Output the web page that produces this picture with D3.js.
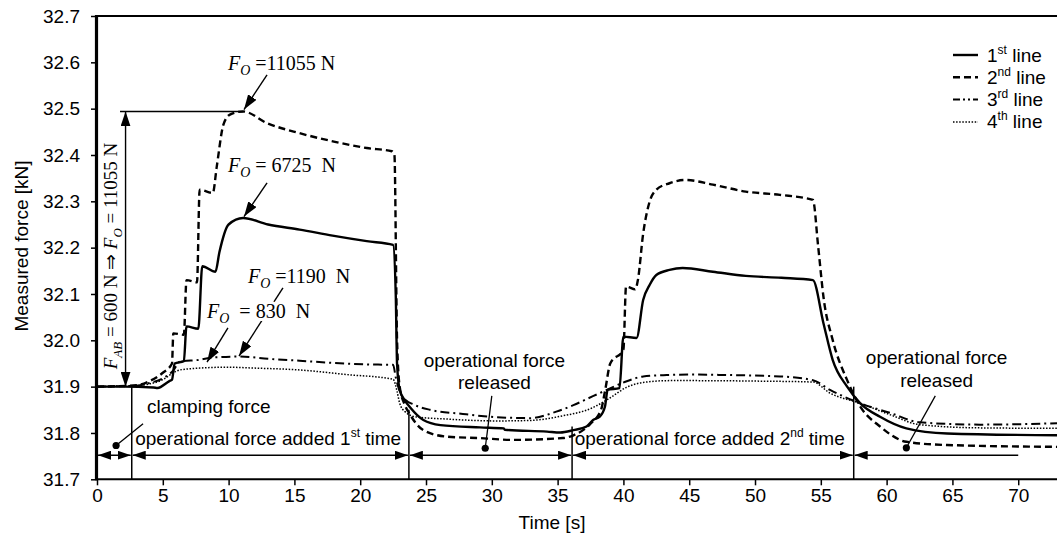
<!DOCTYPE html>
<html>
<head>
<meta charset="utf-8">
<script src="https://cdn.jsdelivr.net/npm/d3@7"></script>
<style>
body { margin: 0; background: #fff; }
svg { display: block; }
text { font-family: "Liberation Sans", Arial, sans-serif; fill: #000; }
.serif { font-family: "Liberation Serif", "Times New Roman", serif; }
</style>
</head>
<body>
<svg id="chart" width="1057" height="536"></svg>
<script>
// measured force per line (time in s, force in kN)
var time1 = [0, 2, 4.3, 4.6, 5.5, 5.7, 5.9, 6.6, 6.8, 7.7, 8.0, 9.0, 9.3, 10.0, 11.1, 13.0, 15.4, 17.9, 20.5, 22.5, 22.7, 22.8, 23.0, 23.4, 23.8, 24.8, 26.1, 29.1, 30.9, 31.0, 34.2, 35.2, 36.2, 37.2, 37.7, 38.2, 38.6, 38.8, 39.7, 40.0, 41.0, 41.5, 42.0, 42.5, 43.5, 44.5, 46.8, 49.3, 52.0, 54.4, 55.2, 55.9, 57.0, 58.0, 59.5, 61.5, 64.6, 73];
var force1 = [31.900, 31.900, 31.898, 31.897, 31.912, 31.915, 31.950, 31.955, 32.030, 32.025, 32.160, 32.148, 32.190, 32.250, 32.264, 32.250, 32.239, 32.226, 32.214, 32.206, 32.100, 31.950, 31.893, 31.870, 31.855, 31.828, 31.817, 31.812, 31.810, 31.807, 31.803, 31.801, 31.806, 31.814, 31.828, 31.835, 31.857, 31.893, 31.897, 32.008, 32.005, 32.087, 32.120, 32.141, 32.152, 32.156, 32.148, 32.139, 32.135, 32.130, 32.037, 31.958, 31.900, 31.864, 31.835, 31.810, 31.799, 31.795];

var time2 = [0, 3.0, 4.0, 5.0, 5.7, 5.8, 6.6, 6.8, 7.6, 7.8, 8.8, 9.1, 9.6, 10.1, 11.1, 12.9, 15.4, 18.0, 20.5, 22.4, 22.6, 22.8, 23.0, 23.4, 23.8, 24.8, 26.6, 29.1, 31.6, 35.4, 36.2, 37.5, 38.3, 38.6, 39.0, 40.0, 40.2, 40.9, 41.1, 41.5, 42.0, 42.5, 43.5, 44.7, 46.8, 49.3, 51.9, 54.4, 54.8, 55.2, 55.9, 57.0, 58.0, 59.5, 61.5, 64.6, 73];
var force2 = [31.900, 31.903, 31.912, 31.930, 31.950, 32.015, 32.012, 32.130, 32.125, 32.325, 32.318, 32.375, 32.465, 32.487, 32.494, 32.469, 32.447, 32.429, 32.415, 32.408, 32.400, 32.000, 31.900, 31.860, 31.839, 31.806, 31.792, 31.789, 31.785, 31.789, 31.795, 31.820, 31.850, 31.890, 31.950, 31.980, 32.116, 32.110, 32.130, 32.230, 32.300, 32.325, 32.339, 32.346, 32.336, 32.321, 32.314, 32.303, 32.202, 32.094, 32.001, 31.914, 31.857, 31.814, 31.781, 31.774, 31.770];

var time3 = [0, 3.0, 4.0, 5.0, 5.8, 6.3, 7.8, 8.8, 10.9, 13.0, 15.4, 18.0, 20.5, 22.5, 22.7, 23.0, 23.5, 24.0, 25.3, 27.8, 30.4, 32.9, 34.9, 36.2, 37.2, 38.5, 40.2, 41.5, 43.3, 45.1, 48.0, 51.9, 54.4, 55.7, 58.0, 60.3, 62.5, 67.1, 73];
var force3 = [31.900, 31.902, 31.908, 31.918, 31.935, 31.954, 31.958, 31.963, 31.965, 31.960, 31.956, 31.951, 31.948, 31.947, 31.920, 31.890, 31.870, 31.862, 31.850, 31.841, 31.834, 31.832, 31.846, 31.860, 31.873, 31.890, 31.911, 31.922, 31.925, 31.926, 31.925, 31.922, 31.914, 31.893, 31.864, 31.843, 31.823, 31.818, 31.821];

var time4 = [0, 3.0, 4.0, 5.0, 5.8, 6.3, 7.8, 9.9, 12.0, 15.4, 19.0, 22.5, 22.8, 23.0, 23.4, 24.2, 26.6, 30.4, 32.9, 35.2, 37.7, 39.0, 40.2, 41.5, 43.5, 45.1, 50.0, 54.4, 55.7, 58.0, 60.3, 62.5, 67.1, 73];
var force4 = [31.900, 31.902, 31.906, 31.915, 31.930, 31.936, 31.940, 31.942, 31.940, 31.936, 31.926, 31.916, 31.890, 31.864, 31.846, 31.835, 31.830, 31.826, 31.827, 31.836, 31.855, 31.876, 31.898, 31.909, 31.913, 31.913, 31.912, 31.910, 31.886, 31.864, 31.839, 31.818, 31.811, 31.810];

var lineNumbers = ["1", "2", "3", "4"];
var lineSuffixes = ["st", "nd", "rd", "th"];
var xTicks = [0, 5, 10, 15, 20, 25, 30, 35, 40, 45, 50, 55, 60, 65, 70];
var yTicks = [31.7, 31.8, 31.9, 32.0, 32.1, 32.2, 32.3, 32.4, 32.5, 32.6, 32.7];

// phases of the test: boundary times and force where each boundary line starts
var phaseTimes = [0, 2.64, 23.7, 36.1, 57.5, 70];
var phaseTops = [null, 31.9, 31.85, 31.814, 31.9, null];

var svg = d3.select("#chart");
var x = d3.scaleLinear().domain([0, 73]).range([97, 1057.7]);
var y = d3.scaleLinear().domain([31.7, 32.7]).range([479.3, 16]);

var defs = svg.append("defs");
defs.append("clipPath").attr("id", "plot").append("rect")
	.attr("x", 97).attr("y", 10).attr("width", 962).attr("height", 470);
function addHead(id, len, half) {
	defs.append("marker").attr("id", id)
		.attr("markerUnits", "userSpaceOnUse")
		.attr("viewBox", "0 0 " + len + " " + (half * 2))
		.attr("markerWidth", len).attr("markerHeight", half * 2)
		.attr("refX", len).attr("refY", half)
		.attr("orient", "auto-start-reverse")
		.append("path").attr("d", "M0,0L" + len + "," + half + "L0," + (half * 2) + "Z").attr("fill", "#000");
}
addHead("headS", 13, 4.5);
addHead("headL", 15, 5);

var FS = 19;

// axes
var yAxis = svg.append("g").attr("transform", "translate(97,0)")
	.call(d3.axisLeft(y).tickValues(yTicks).tickFormat(d3.format(".1f")).tickSize(6).tickPadding(11));
var xAxis = svg.append("g").attr("transform", "translate(0,479.3)")
	.call(d3.axisBottom(x).tickValues(xTicks).tickSize(6).tickPadding(3));
[yAxis, xAxis].forEach(function(a) {
	a.select(".domain").remove();
	a.selectAll(".tick line").attr("stroke", "#000").attr("stroke-width", 1.5);
	a.selectAll(".tick text").style("font-size", FS + "px").style("font-family", "Liberation Sans, Arial, sans-serif");
});
svg.append("line").attr("x1", 97).attr("x2", 1057).attr("y1", y(31.7)).attr("y2", y(31.7))
	.attr("stroke", "#000").attr("stroke-width", 2);
svg.append("line").attr("x1", 97).attr("x2", 1057).attr("y1", y(32.7)).attr("y2", y(32.7))
	.attr("stroke", "#000").attr("stroke-width", 2.2);
svg.append("line").attr("x1", 96.5).attr("x2", 96.5).attr("y1", y(32.7) - 1).attr("y2", y(31.7) + 1)
	.attr("stroke", "#000").attr("stroke-width", 3.2);

svg.append("text").attr("transform", "translate(28,246) rotate(-90)").attr("text-anchor", "middle")
	.style("font-size", FS + "px").text("Measured force [kN]");
svg.append("text").attr("x", 552).attr("y", 529).attr("text-anchor", "middle")
	.style("font-size", FS + "px").text("Time [s]");

// series
var series = [
	{ t: time1, f: force1, dash: null, w: 2.4 },
	{ t: time2, f: force2, dash: "7,4", w: 2.4 },
	{ t: time3, f: force3, dash: "9,4,2,4", w: 2 },
	{ t: time4, f: force4, dash: "1.5,1.6", w: 1.5 }
];
var line = d3.line().x(function(d) { return x(d[0]); }).y(function(d) { return y(d[1]); }).curve(d3.curveMonotoneX);
var plot = svg.append("g").attr("clip-path", "url(#plot)");
series.slice().reverse().forEach(function(s) {
	plot.append("path").datum(d3.zip(s.t, s.f)).attr("d", line)
		.attr("fill", "none").attr("stroke", "#000").attr("stroke-width", s.w)
		.attr("stroke-linejoin", "round")
		.attr("stroke-dasharray", s.dash);
});

// legend
var legend = svg.append("g");
series.forEach(function(s, i) {
	var ly = 55 + i * 22.3;
	legend.append("line").attr("x1", 953).attr("x2", 978).attr("y1", ly).attr("y2", ly)
		.attr("stroke", "#000").attr("stroke-width", s.w)
		.attr("stroke-dasharray", i == 2 ? "7,3,2,3,2,3" : s.dash);
	var t = legend.append("text").attr("x", 987).attr("y", ly + 6.5).style("font-size", FS + "px");
	t.append("tspan").text(lineNumbers[i]);
	t.append("tspan").attr("dy", -8).style("font-size", "12px").text(lineSuffixes[i]);
	t.append("tspan").attr("dy", 8).text(" line");
});

// phase boundaries and arrows
var ann = svg.append("g");
var arrowY = y(31.752);
phaseTimes.forEach(function(t, i) {
	if (phaseTops[i] != null) {
		ann.append("line").attr("x1", x(t)).attr("x2", x(t)).attr("y1", y(phaseTops[i])).attr("y2", y(31.7))
			.attr("stroke", "#000").attr("stroke-width", 1.5);
	}
	if (i < phaseTimes.length - 1) {
		ann.append("line").attr("x1", x(t) + 1).attr("x2", x(phaseTimes[i + 1]) - (i < phaseTimes.length - 2 ? 1 : 0))
			.attr("y1", arrowY).attr("y2", arrowY)
			.attr("stroke", "#000").attr("stroke-width", 1.4)
			.attr("marker-start", "url(#headS)")
			.attr("marker-end", i < phaseTimes.length - 2 ? "url(#headS)" : null);
	}
});

function textWithSup(px, py, before, sup, after, anchor) {
	var t = ann.append("text").attr("x", px).attr("y", py).style("font-size", FS + "px")
		.attr("text-anchor", anchor || "start");
	t.append("tspan").text(before);
	if (sup) {
		t.append("tspan").attr("dy", -8).style("font-size", "12px").text(sup);
		t.append("tspan").attr("dy", 8).text(after);
	}
	return t;
}
textWithSup(x(2.9), y(31.775), "operational force added 1", "st", " time");
textWithSup(x(36.3), y(31.775), "operational force added 2", "nd", " time");
textWithSup(x(3.8), y(31.843), "clamping force");
textWithSup(x(30.2), y(31.942), "operational force", null, null, "middle");
textWithSup(x(30.2), y(31.894), "released", null, null, "middle");
textWithSup(x(63.8), y(31.948), "operational force", null, null, "middle");
textWithSup(x(63.8), y(31.899), "released", null, null, "middle");

// leaders with dots
var leaders = [
	[[3.5, 31.82], [1.45, 31.773]],
	[[30.0, 31.88], [29.5, 31.767]],
	[[63.7, 31.88], [61.5, 31.768]]
];
leaders.forEach(function(l) {
	ann.append("line").attr("x1", x(l[0][0])).attr("y1", y(l[0][1])).attr("x2", x(l[1][0])).attr("y2", y(l[1][1]))
		.attr("stroke", "#000").attr("stroke-width", 1.3);
	ann.append("circle").attr("cx", x(l[1][0])).attr("cy", y(l[1][1])).attr("r", 3.6).attr("fill", "#000");
});

// F_AB arrow and peak line
ann.append("line").attr("x1", x(1.75)).attr("x2", x(11.1)).attr("y1", y(32.494)).attr("y2", y(32.494))
	.attr("stroke", "#000").attr("stroke-width", 1.5);
ann.append("line").attr("x1", x(2.17)).attr("x2", x(2.17)).attr("y1", y(31.9)).attr("y2", y(32.494))
	.attr("stroke", "#000").attr("stroke-width", 1.4)
	.attr("marker-start", "url(#headL)").attr("marker-end", "url(#headL)");

function forceLabel(px, py, sub, rest, size) {
	var t = ann.append("text").attr("class", "serif").attr("x", px).attr("y", py)
		.style("font-size", size + "px").style("white-space", "pre");
	t.append("tspan").style("font-style", "italic").text("F");
	t.append("tspan").style("font-style", "italic").style("font-size", Math.round(size * 0.68) + "px").attr("dy", 5).text(sub);
	t.append("tspan").attr("dy", -5).text(rest);
	return t;
}

// F_O annotations: label position, arrow start, arrow tip
var forceNotes = [
	{ at: [9.95, 32.584], text: " =11055 N", from: [12.92, 32.573], to: [11.17, 32.498] },
	{ at: [9.95, 32.364], text: " = 6725  N", from: [12.92, 32.340], to: [11.17, 32.267] },
	{ at: [11.47, 32.124], text: " =1190  N", from: [14.13, 32.113], to: [10.79, 31.966] },
	{ at: [8.36, 32.048], text: "  = 830  N", from: [9.95, 32.027], to: [8.36, 31.953] }
];
forceNotes.forEach(function(n) {
	ann.append("line").attr("x1", x(n.from[0])).attr("y1", y(n.from[1])).attr("x2", x(n.to[0])).attr("y2", y(n.to[1]))
		.attr("stroke", "#000").attr("stroke-width", 1.4).attr("marker-end", "url(#headL)");
});
forceNotes.forEach(function(n) {
	forceLabel(x(n.at[0]), y(n.at[1]), "O", n.text, 20)
		.attr("stroke", "#fff").attr("stroke-width", 6).style("paint-order", "stroke");
});

var rot = ann.append("text").attr("class", "serif").attr("text-anchor", "middle")
	.attr("transform", "translate(117,256) rotate(-90)").style("font-size", "19px");
rot.append("tspan").style("font-style", "italic").text("F");
rot.append("tspan").style("font-style", "italic").style("font-size", "13px").attr("dy", 5).text("AB");
rot.append("tspan").attr("dy", -5).text(" = 600 N \u21D2 ");
rot.append("tspan").style("font-style", "italic").text("F");
rot.append("tspan").style("font-style", "italic").style("font-size", "13px").attr("dy", 5).text("O");
rot.append("tspan").attr("dy", -5).text(" = 11055 N");
</script>
</body>
</html>
